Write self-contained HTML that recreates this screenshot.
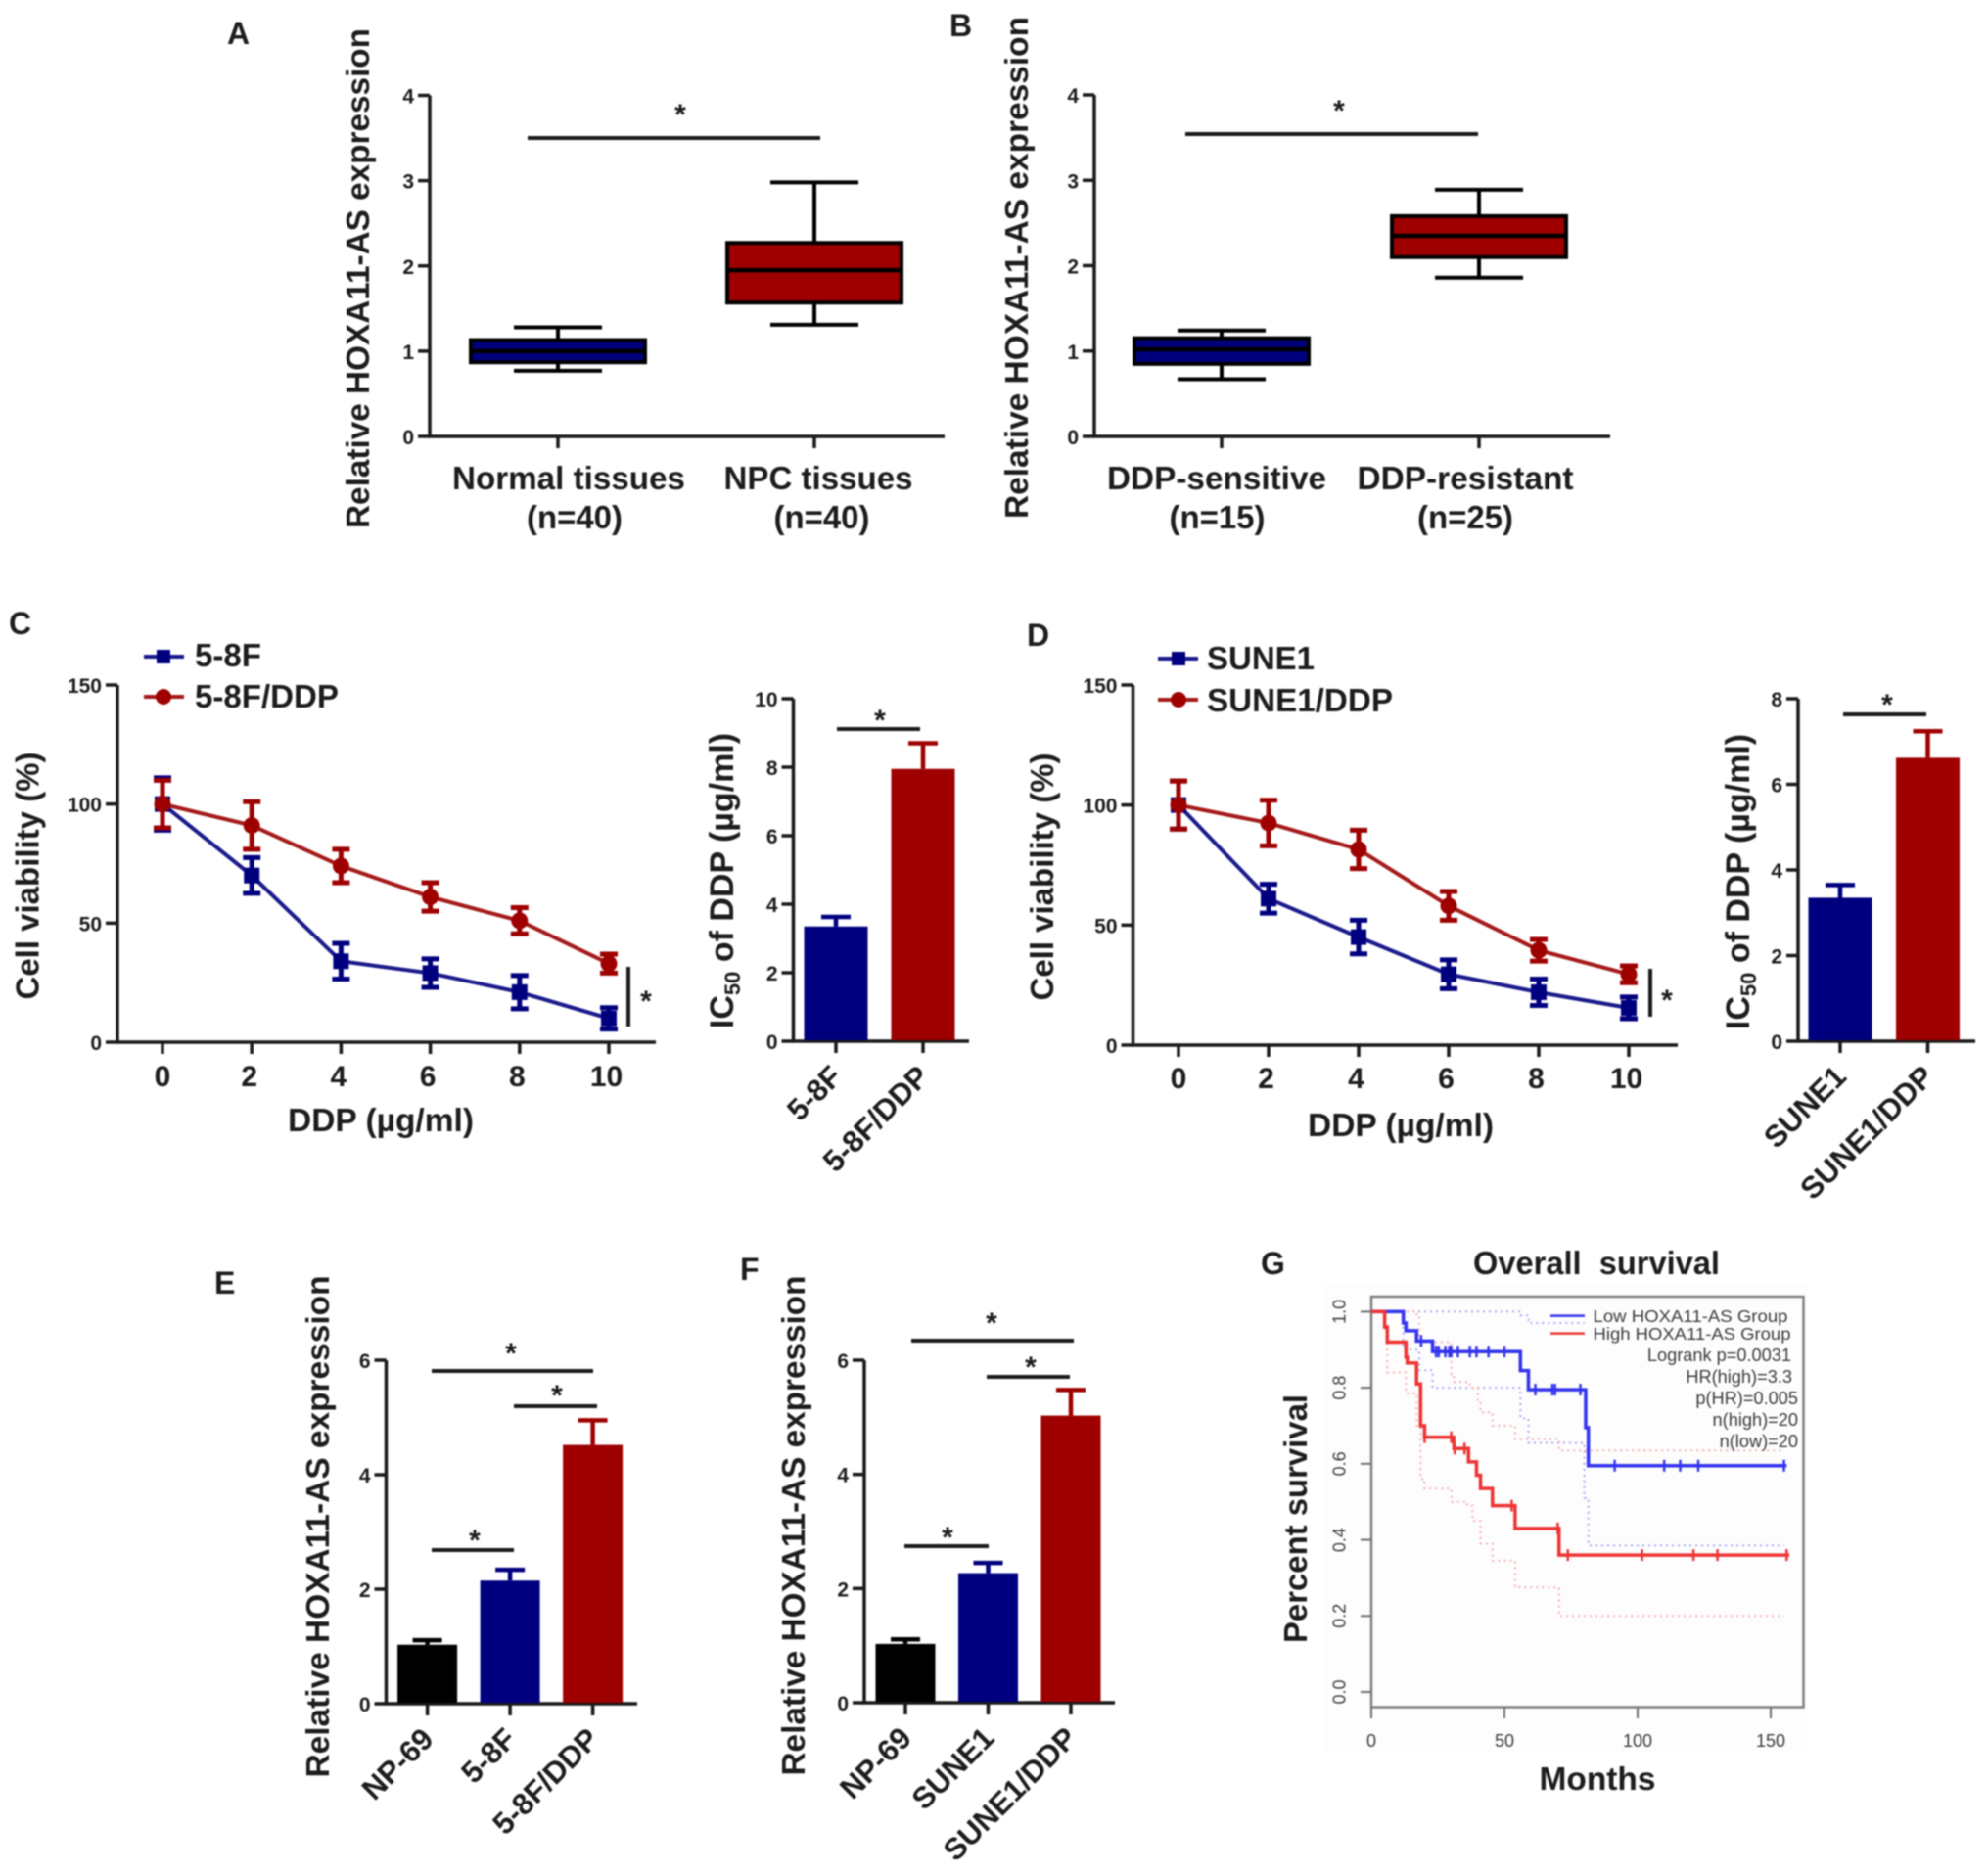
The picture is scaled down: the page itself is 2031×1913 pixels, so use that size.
<!DOCTYPE html>
<html lang="en">
<head>
<meta charset="utf-8">
<title>HOXA11-AS expression figure</title>
<style>
html,body{margin:0;padding:0;background:#fff;}
body{width:2031px;height:1913px;overflow:hidden;}
svg{display:block;filter:blur(0.9px);}
text{font-family:"Liberation Sans",Arial,sans-serif;font-weight:bold;fill:#1c1c1c;}
.letter{font-size:32px;}
.title{font-size:33px;}
.star{font-size:30px;text-anchor:middle;}
.sig{stroke:#1a1a1a;stroke-width:4;fill:none;}
</style>
</head>
<body>
<svg id="figure" xmlns="http://www.w3.org/2000/svg" width="2031" height="1913" viewBox="0 0 2031 1913">
  <rect x="0" y="0" width="2031" height="1913" fill="#fff"/>

  <g>
    <text class="letter" x="232" y="45">A</text>
    <text class="letter" x="970" y="37">B</text>
    <text class="letter" x="9" y="648">C</text>
    <text class="letter" x="1049" y="660">D</text>
    <text class="letter" x="219" y="1322">E</text>
    <text class="letter" x="756" y="1308">F</text>
    <text class="letter" x="1288" y="1302">G</text>
  </g>

  <g>
    <text class="title" text-anchor="middle" textLength="511" lengthAdjust="spacingAndGlyphs" transform="translate(377 284.5) rotate(-90)">Relative HOXA11-AS expression</text>
    <text class="title" text-anchor="middle" textLength="513" lengthAdjust="spacingAndGlyphs" transform="translate(1050 273.5) rotate(-90)">Relative HOXA11-AS expression</text>
    <text class="title" text-anchor="middle" textLength="253" lengthAdjust="spacingAndGlyphs" transform="translate(39.5 895) rotate(-90)">Cell viability (%)</text>
    <text class="title" text-anchor="middle" textLength="190" lengthAdjust="spacingAndGlyphs" x="389" y="1156">DDP (µg/ml)</text>
    <text class="title" text-anchor="middle" transform="translate(749 900) rotate(-90)" style="font-size:34px">IC<tspan font-size="22" dy="7">50</tspan><tspan dy="-7"> of DDP (µg/ml)</tspan></text>
    <text class="title" text-anchor="middle" textLength="253" lengthAdjust="spacingAndGlyphs" transform="translate(1076 896) rotate(-90)">Cell viability (%)</text>
    <text class="title" text-anchor="middle" textLength="190" lengthAdjust="spacingAndGlyphs" x="1431" y="1161">DDP (µg/ml)</text>
    <text class="title" text-anchor="middle" transform="translate(1787 901) rotate(-90)" style="font-size:34px">IC<tspan font-size="22" dy="7">50</tspan><tspan dy="-7"> of DDP (µg/ml)</tspan></text>
    <text class="title" text-anchor="middle" textLength="513" lengthAdjust="spacingAndGlyphs" transform="translate(336 1560) rotate(-90)">Relative HOXA11-AS expression</text>
    <text class="title" text-anchor="middle" textLength="511" lengthAdjust="spacingAndGlyphs" transform="translate(822 1559) rotate(-90)">Relative HOXA11-AS expression</text>
    <text class="title" text-anchor="middle" textLength="254" lengthAdjust="spacingAndGlyphs" transform="translate(1335 1552) rotate(-90)">Percent survival</text>
    <text class="title" text-anchor="middle" textLength="252" lengthAdjust="spacingAndGlyphs" x="1631" y="1302" style="white-space:pre">Overall  survival</text>
    <text class="title" text-anchor="middle" textLength="119" lengthAdjust="spacingAndGlyphs" x="1632" y="1829">Months</text>
  </g>

  <g>
    <line class="sig" x1="539" x2="838" y1="141" y2="141"/>
    <text class="star" x="695" y="127">*</text>
    <line class="sig" x1="1211" x2="1510" y1="137" y2="137"/>
    <text class="star" x="1368" y="123">*</text>
    <line class="sig" x1="642" x2="642" y1="988" y2="1049"/>
    <text class="star" x="660" y="1033">*</text>
    <line class="sig" x1="855" x2="940" y1="745" y2="745"/>
    <text class="star" x="899" y="746">*</text>
    <line class="sig" x1="1686" x2="1686" y1="990" y2="1039"/>
    <text class="star" x="1703" y="1032">*</text>
    <line class="sig" x1="1883" x2="1968" y1="730" y2="730"/>
    <text class="star" x="1928" y="730">*</text>
    <line class="sig" x1="441" x2="606" y1="1401" y2="1401"/>
    <text class="star" x="522" y="1393">*</text>
    <line class="sig" x1="525" x2="610" y1="1437" y2="1437"/>
    <text class="star" x="569" y="1436">*</text>
    <line class="sig" x1="441" x2="525" y1="1584" y2="1584"/>
    <text class="star" x="485" y="1584">*</text>
    <line class="sig" x1="931" x2="1097" y1="1370" y2="1370"/>
    <text class="star" x="1013" y="1362">*</text>
    <line class="sig" x1="1008" x2="1093" y1="1407" y2="1407"/>
    <text class="star" x="1053" y="1407">*</text>
    <line class="sig" x1="924" x2="1010" y1="1580" y2="1580"/>
    <text class="star" x="968" y="1581">*</text>
  </g>

  <g>
    <line x1="147" x2="188" y1="671" y2="671" stroke="#1a1a8c" stroke-width="4"/>
    <rect x="160" y="664" width="14" height="14" fill="#00007f"/>
    <text x="199" y="681" font-size="33" textLength="68" lengthAdjust="spacingAndGlyphs">5-8F</text>
    <line x1="147" x2="188" y1="712" y2="712" stroke="#a51a1a" stroke-width="4"/>
    <circle cx="167" cy="712" r="8" fill="#9e0000"/>
    <text x="199" y="723" font-size="33" textLength="147" lengthAdjust="spacingAndGlyphs">5-8F/DDP</text>
  </g>
  <g>
    <line x1="1183" x2="1224" y1="673" y2="673" stroke="#1a1a8c" stroke-width="4"/>
    <rect x="1197" y="666" width="14" height="14" fill="#00007f"/>
    <text x="1233" y="684" font-size="33" textLength="110" lengthAdjust="spacingAndGlyphs">SUNE1</text>
    <line x1="1183" x2="1224" y1="715" y2="715" stroke="#a51a1a" stroke-width="4"/>
    <circle cx="1204" cy="715" r="8" fill="#9e0000"/>
    <text x="1233" y="727" font-size="33" textLength="190" lengthAdjust="spacingAndGlyphs">SUNE1/DDP</text>
  </g>
</svg>

<script>
// ---------- Panel A data ----------
const aGroups = ['Normal tissues', 'NPC tissues'];
const aCounts = ['(n=40)', '(n=40)'];
const aWhiskerLow = [0.77, 1.31];
const aQ1 = [0.87, 1.57];
const aMedian = [1.0, 1.95];
const aQ3 = [1.13, 2.27];
const aWhiskerHigh = [1.28, 2.98];
const aTicks = [0, 1, 2, 3, 4];
// ---------- Panel B data ----------
const bGroups = ['DDP-sensitive', 'DDP-resistant'];
const bCounts = ['(n=15)', '(n=25)'];
const bWhiskerLow = [0.67, 1.86];
const bQ1 = [0.85, 2.1];
const bMedian = [1.02, 2.35];
const bQ3 = [1.15, 2.58];
const bWhiskerHigh = [1.24, 2.89];
const bTicks = [0, 1, 2, 3, 4];
// ---------- Panel C data ----------
const doseLevels = [0, 2, 4, 6, 8, 10];
const viabilityTicks = [0, 50, 100, 150];
const c58F = [100, 70, 34, 29, 21, 10];
const c58FErr = [11, 7.5, 7.5, 6, 7, 4.5];
const c58FDdp = [100, 91, 74, 61, 51, 33];
const c58FDdpErr = [10, 10, 7, 6, 5.5, 4];
const cIcCategories = ['5-8F', '5-8F/DDP'];
const cIcValues = [3.35, 7.95];
const cIcErrors = [0.28, 0.75];
const cIcTicks = [0, 2, 4, 6, 8, 10];
// ---------- Panel D data ----------
const dSune1 = [100, 61, 45, 29.5, 22, 15.5];
const dSune1Err = [10, 6, 7, 6, 5.5, 4.5];
const dSune1Ddp = [100, 92.5, 81.5, 58, 39.5, 29.5];
const dSune1DdpErr = [10, 9.5, 8, 6, 4.5, 3.5];
const dIcCategories = ['SUNE1', 'SUNE1/DDP'];
const dIcValues = [3.35, 6.62];
const dIcErrors = [0.3, 0.62];
const dIcTicks = [0, 2, 4, 6, 8];
// ---------- Panels E / F data ----------
const eCategories = ['NP-69', '5-8F', '5-8F/DDP'];
const eValues = [1.03, 2.15, 4.52];
const eErrors = [0.08, 0.19, 0.43];
const fCategories = ['NP-69', 'SUNE1', 'SUNE1/DDP'];
const fValues = [1.03, 2.27, 5.03];
const fErrors = [0.08, 0.18, 0.45];
const expressionTicks = [0, 2, 4, 6];
// ---------- Panel G data ----------
const monthTicks = [0, 50, 100, 150];
const survivalTicks = ['0.0', '0.2', '0.4', '0.6', '0.8', '1.0'];
const lowTimes = [0, 12, 13, 17, 23, 56, 59, 80.5, 81.5, 156];
const lowSurvival = [1, 0.97, 0.95, 0.923, 0.895, 0.845, 0.795, 0.695, 0.595, 0.595];
const lowCensored = [18.7, 24.3, 25.3, 27.8, 29.3, 30, 32.5, 37, 39.5, 44, 50, 61.6, 68, 69, 78.5, 91.4, 110, 116, 122.8, 155];
const lowUpperTimes = [0, 56, 59, 80];
const lowUpperSurvival = [1, 0.99, 0.97, 0.97];
const lowLowerTimes = [0, 12, 18, 23, 56, 59, 80, 81.5, 155];
const lowLowerSurvival = [1, 0.9, 0.846, 0.8, 0.72, 0.655, 0.51, 0.385, 0.385];
const highTimes = [0, 5, 6, 13, 13.5, 17, 18.5, 20, 31, 36.5, 39.5, 41, 45.5, 54, 70.5, 157];
const highSurvival = [1, 0.96, 0.92, 0.88, 0.865, 0.81, 0.7, 0.67, 0.64, 0.605, 0.57, 0.535, 0.49, 0.43, 0.36, 0.36];
const highCensored = [20, 30, 31.3, 35, 52.7, 70, 73.8, 101.7, 121, 130, 156];
const highUpperTimes = [0, 17, 18, 30, 31, 37, 40, 41, 45.5, 54, 70.5, 155];
const highUpperSurvival = [1, 0.99, 0.92, 0.835, 0.815, 0.8, 0.765, 0.735, 0.7, 0.665, 0.635, 0.635];
const highLowerTimes = [0, 5, 6, 13, 17, 18.5, 20, 30, 36, 38, 41, 45.5, 54, 70.5, 155];
const highLowerSurvival = [1, 0.95, 0.84, 0.785, 0.7, 0.56, 0.535, 0.5, 0.49, 0.45, 0.39, 0.345, 0.275, 0.2, 0.2];

const NS = 'http://www.w3.org/2000/svg';
const figure = document.getElementById('figure');
const BLUE = '#00007f', RED = '#9e0000', BLUE_LINE = '#1a1a8c', RED_LINE = '#a51a1a', INK = '#1a1a1a', GREY_TEXT = 'font-weight:normal;fill:#3c3c3c';

function mk(parent, tag, attrs, content) {
  const el = document.createElementNS(NS, tag);
  for (const k in attrs) el.setAttribute(k, attrs[k]);
  if (content !== undefined) el.textContent = content;
  parent.appendChild(el);
  return el;
}
function linear(d0, d1, r0, r1) {
  return function (v) { return r0 + (v - d0) * (r1 - r0) / (d1 - d0); };
}
function band(first, step) {
  return function (i) { return first + i * step; };
}
function panel(name) {
  const g = mk(figure, 'g', {});
  
  
  return g;
}
function drawAxes(g, name, o) {
  const yAxis = mk(g, 'line', { x1: o.x0, x2: o.x0, y1: o.y(o.yTicks[o.yTicks.length - 1]), y2: o.y(o.yTicks[0]), stroke: INK, 'stroke-width': 3.5 });
  
  
  const xAxis = mk(g, 'line', { x1: o.x0 - 1.5, x2: o.xEnd, y1: o.y(o.yTicks[0]), y2: o.y(o.yTicks[0]), stroke: INK, 'stroke-width': 3.5 });
  
  
  o.yTicks.forEach(function (t) {
    const yy = o.y(t);
    const mark = mk(g, 'line', { x1: o.x0 - 12, x2: o.x0, y1: yy, y2: yy, stroke: INK, 'stroke-width': 3.5 });
    
    
    const label = mk(g, 'text', { x: o.x0 - 16, y: yy + 8, 'text-anchor': 'end', 'font-size': 21 }, String(t));
    
    
  });
  o.xTicks.forEach(function (xx, i) {
    const mark = mk(g, 'line', { x1: xx, x2: xx, y1: o.y(o.yTicks[0]), y2: o.y(o.yTicks[0]) + 12, stroke: INK, 'stroke-width': 3.5 });
    
    
  });
}
function drawBoxes(name, o) {
  const g = panel(name);
  const xPos = band(o.first, o.step);
  const y = linear(0, 4, o.y0, o.y4);
  drawAxes(g, name, { x0: o.x0, xEnd: o.xEnd, y: y, yTicks: o.ticks, xTicks: o.groups.map(function (_, i) { return xPos(i); }) });
  o.groups.forEach(function (groupName, i) {
    const c = xPos(i), color = i === 0 ? BLUE : RED;
    const stem = mk(g, 'line', { x1: c, x2: c, y1: y(o.low[i]), y2: y(o.high[i]), stroke: '#000', 'stroke-width': 4 });
    
    
    [o.low[i], o.high[i]].forEach(function (v, k) {
      const cap = mk(g, 'line', { x1: c - 45, x2: c + 45, y1: y(v), y2: y(v), stroke: '#000', 'stroke-width': 4 });
      
      
    });
    const box = mk(g, 'rect', { x: c - 89, y: y(o.q3[i]), width: 178, height: y(o.q1[i]) - y(o.q3[i]), fill: color, stroke: '#000', 'stroke-width': 4 });
    
    
    const med = mk(g, 'line', { x1: c - 89, x2: c + 89, y1: y(o.median[i]), y2: y(o.median[i]), stroke: '#000', 'stroke-width': 4.5 });
    
    
    const lab = mk(g, 'text', { x: o.labelX[i], y: 500, 'text-anchor': 'middle', 'font-size': 33, textLength: o.labelW[i], lengthAdjust: 'spacingAndGlyphs' }, groupName);
    
    
    const cnt = mk(g, 'text', { x: o.countX[i], y: 540, 'text-anchor': 'middle', 'font-size': 33, textLength: 98, lengthAdjust: 'spacingAndGlyphs' }, o.counts[i]);
    
    
  });
}
function drawLines(name, o) {
  const g = panel(name);
  const x = linear(0, 10, o.x0Pos, o.x10Pos);
  const y = linear(0, 150, o.y0, o.y150);
  drawAxes(g, name, { x0: o.axisX, xEnd: o.xEnd, y: y, yTicks: viabilityTicks, xTicks: doseLevels.map(x) });
  doseLevels.forEach(function (d) {
    const lab = mk(g, 'text', { x: x(d) - (d === 0 ? 0 : 2.5), y: o.tickBase, 'text-anchor': 'middle', 'font-size': 30 }, String(d));
    
    
  });
  [[o.blue, o.blueErr, BLUE_LINE, BLUE, 'low'], [o.red, o.redErr, RED_LINE, RED, 'ddp']].forEach(function (s) {
    const pts = doseLevels.map(function (d, i) { return x(d) + ',' + y(s[0][i]); }).join(' ');
    const line = mk(g, 'polyline', { points: pts, fill: 'none', stroke: s[2], 'stroke-width': 4 });
    
    
    doseLevels.forEach(function (d, i) {
      const cx = x(d), cy = y(s[0][i]), up = y(s[0][i] + s[1][i]), dn = y(s[0][i] - s[1][i]);
      const err = mk(g, 'path', { d: 'M' + (cx - 9) + ' ' + up + 'H' + (cx + 9) + 'M' + cx + ' ' + up + 'V' + dn + 'M' + (cx - 9) + ' ' + dn + 'H' + (cx + 9), fill: 'none', stroke: s[3], 'stroke-width': 5 });
      
      
      let dot;
      if (s[4] === 'low') dot = mk(g, 'rect', { x: cx - 8, y: cy - 8, width: 16, height: 16, fill: s[3] });
      else dot = mk(g, 'circle', { cx: cx, cy: cy, r: 8.5, fill: s[3] });
      
      
    });
  });
}
function drawBars(name, o) {
  const g = panel(name);
  const xPos = band(o.first, o.step);
  const y = linear(o.ticks[0], o.ticks[o.ticks.length - 1], o.y0, o.yTop);
  drawAxes(g, name, { x0: o.x0, xEnd: o.xEnd, y: y, yTicks: o.ticks, xTicks: o.categories.map(function (_, i) { return xPos(i); }) });
  o.categories.forEach(function (cat, i) {
    const c = xPos(i), color = o.colors[i];
    const err = mk(g, 'path', { d: 'M' + (c - 15) + ' ' + y(o.values[i] + o.errors[i]) + 'H' + (c + 15) + 'M' + c + ' ' + y(o.values[i] + o.errors[i]) + 'V' + y(o.values[i]), fill: 'none', stroke: color, 'stroke-width': 4.5 });
    
    
    const bar = mk(g, 'rect', { x: c - o.barW / 2, y: y(o.values[i]), width: o.barW, height: y(0) - y(o.values[i]) - 1, fill: color });
    
    
    const lab = mk(g, 'text', { 'text-anchor': 'end', 'font-size': o.labelSize, transform: 'translate(' + (c + 8) + ' ' + (y(0) + 38) + ') rotate(-45)' }, cat);
    
    
  });
}
function stepPoints(times, values, xs, ys) {
  let d = 'M' + xs(times[0]) + ' ' + ys(values[0]);
  for (let i = 1; i < times.length; i++) {
    d += 'H' + xs(times[i]) + 'V' + ys(values[i]);
  }
  return d;
}
function valueAt(times, values, t) {
  let v = values[0];
  for (let i = 0; i < times.length; i++) { if (times[i] <= t) v = values[i]; }
  return v;
}
function drawSurvival() {
  const name = 'panel-g';
  const g = panel(name);
  const xs = linear(0, 150, 1401, 1809);
  const ys = linear(0, 1, 1729, 1340.4);
  const bg = mk(g, 'rect', { x: 1352, y: 1312, width: 496, height: 478, fill: '#fdfdfd' });
  
  
  const frame = mk(g, 'rect', { x: 1401, y: 1325, width: 441.5, height: 419.5, fill: 'none', stroke: '#808080', 'stroke-width': 2.5 });
  
  
  monthTicks.forEach(function (m) {
    const mark = mk(g, 'line', { x1: xs(m), x2: xs(m), y1: 1744.5, y2: 1756, stroke: '#707070', 'stroke-width': 2 });
    
    
    const lab = mk(g, 'text', { x: xs(m), y: 1785, 'text-anchor': 'middle', 'font-size': 18, style: GREY_TEXT }, String(m));
    
    
  });
  survivalTicks.forEach(function (t) {
    const yy = ys(parseFloat(t));
    const mark = mk(g, 'line', { x1: 1390, x2: 1401, y1: yy, y2: yy, stroke: '#707070', 'stroke-width': 2 });
    
    
    const lab = mk(g, 'text', { 'text-anchor': 'middle', 'font-size': 18, style: GREY_TEXT, transform: 'translate(1374.5 ' + yy + ') rotate(-90)' }, t);
    
    
  });
  [[lowUpperTimes, lowUpperSurvival, '#a9a9f5', 'low-upper-ci'], [lowLowerTimes, lowLowerSurvival, '#a9a9f5', 'low-lower-ci'], [highUpperTimes, highUpperSurvival, '#f5b0b0', 'high-upper-ci'], [highLowerTimes, highLowerSurvival, '#f5b0b0', 'high-lower-ci']].forEach(function (s) {
    const ci = mk(g, 'path', { d: stepPoints(s[0], s[1], xs, ys), fill: 'none', stroke: s[2], 'stroke-width': 2, 'stroke-dasharray': '2 4' });
    
    
  });
  [[lowTimes, lowSurvival, lowCensored, '#3434ee', 'low'], [highTimes, highSurvival, highCensored, '#ee3434', 'high']].forEach(function (s) {
    const curve = mk(g, 'path', { d: stepPoints(s[0], s[1], xs, ys), fill: 'none', stroke: s[3], 'stroke-width': 3.5 });
    
    
    s[2].forEach(function (t, i) {
      const yy = ys(valueAt(s[0], s[1], t));
      const mark = mk(g, 'line', { x1: xs(t), x2: xs(t), y1: yy - 6, y2: yy + 6, stroke: s[3], 'stroke-width': 2.5 });
      
      
    });
  });
  const lowKey = mk(g, 'line', { x1: 1584, x2: 1619, y1: 1344.6, y2: 1344.6, stroke: '#3434ee', 'stroke-width': 2.5 });
  
  
  const highKey = mk(g, 'line', { x1: 1584, x2: 1619, y1: 1362.6, y2: 1362.6, stroke: '#ee3434', 'stroke-width': 2.5 });
  
  
  const lowLabel = mk(g, 'text', { x: 1627.5, y: 1351, 'font-size': 17.5, textLength: 199, lengthAdjust: 'spacingAndGlyphs', style: GREY_TEXT }, 'Low HOXA11-AS Group');
  
  
  const highLabel = mk(g, 'text', { x: 1627.5, y: 1369, 'font-size': 17.5, textLength: 202, lengthAdjust: 'spacingAndGlyphs', style: GREY_TEXT }, 'High HOXA11-AS Group');
  
  
  const logrank = mk(g, 'text', { x: 1830, y: 1391, 'text-anchor': 'end', 'font-size': 18.2, style: GREY_TEXT }, 'Logrank p=0.0031');
  
  
  const hr = mk(g, 'text', { x: 1831, y: 1413, 'text-anchor': 'end', 'font-size': 18.2, style: GREY_TEXT }, 'HR(high)=3.3');
  
  
  const phr = mk(g, 'text', { x: 1837, y: 1435, 'text-anchor': 'end', 'font-size': 18.2, style: GREY_TEXT }, 'p(HR)=0.005');
  
  
  const nh = mk(g, 'text', { x: 1837, y: 1457, 'text-anchor': 'end', 'font-size': 18.2, style: GREY_TEXT }, 'n(high)=20');
  
  
  const nl = mk(g, 'text', { x: 1837, y: 1479, 'text-anchor': 'end', 'font-size': 18.2, style: GREY_TEXT }, 'n(low)=20');
  
  
}

drawBoxes('panel-a', { groups: aGroups, counts: aCounts, low: aWhiskerLow, q1: aQ1, median: aMedian, q3: aQ3, high: aWhiskerHigh, ticks: aTicks, first: 570, step: 262, y0: 446, y4: 97.5, x0: 439, xEnd: 965, labelX: [581, 836], labelW: [238, 193], countX: [587, 839.5] });
drawBoxes('panel-b', { groups: bGroups, counts: bCounts, low: bWhiskerLow, q1: bQ1, median: bMedian, q3: bQ3, high: bWhiskerHigh, ticks: bTicks, first: 1248, step: 263, y0: 446, y4: 97, x0: 1118, xEnd: 1645, labelX: [1243, 1497], labelW: [224, 221], countX: [1243.5, 1497] });
drawLines('panel-c-viability', { blue: c58F, blueErr: c58FErr, red: c58FDdp, redErr: c58FDdpErr, x0Pos: 166, x10Pos: 622, y0: 1065, y150: 700, axisX: 120, xEnd: 670, tickBase: 1110 });
drawBars('panel-c-ic50', { categories: cIcCategories, values: cIcValues, errors: cIcErrors, ticks: cIcTicks, colors: [BLUE, RED], first: 854, step: 89, y0: 1064, yTop: 714, x0: 810.5, xEnd: 990, barW: 65, labelSize: 31 });
drawLines('panel-d-viability', { blue: dSune1, blueErr: dSune1Err, red: dSune1Ddp, redErr: dSune1DdpErr, x0Pos: 1204, x10Pos: 1664, y0: 1068, y150: 700, axisX: 1157.5, xEnd: 1714, tickBase: 1112 });
drawBars('panel-d-ic50', { categories: dIcCategories, values: dIcValues, errors: dIcErrors, ticks: dIcTicks, colors: [BLUE, RED], first: 1880, step: 89.5, y0: 1064, yTop: 714, x0: 1837, xEnd: 2018, barW: 65, labelSize: 31 });
drawBars('panel-e', { categories: eCategories, values: eValues, errors: eErrors, ticks: expressionTicks, colors: ['#000000', BLUE, RED], first: 436.6, step: 84.5, y0: 1741, yTop: 1390, x0: 394.5, xEnd: 651, barW: 61, labelSize: 31 });
drawBars('panel-f', { categories: fCategories, values: fValues, errors: fErrors, ticks: expressionTicks, colors: ['#000000', BLUE, RED], first: 925, step: 84.5, y0: 1740, yTop: 1390, x0: 883, xEnd: 1139, barW: 61, labelSize: 31 });
drawSurvival();
</script>
</body>
</html>
